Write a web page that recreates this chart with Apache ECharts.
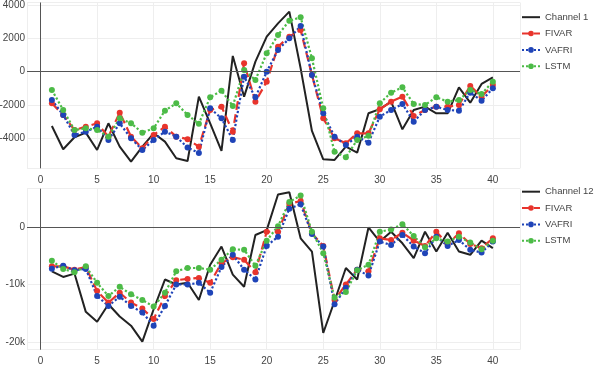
<!DOCTYPE html>
<title>channels</title>
<style>
body {margin: 0; background: #fff;}
#echart {height: 371px; width: 594px;}
</style>
<div id='echart'></div>
<script src='https://cdn.jsdelivr.net/npm/echarts@6.0.0/dist/echarts.min.js'></script>
<script>
let steps = [1, 2, 3, 4, 5, 6, 7, 8, 9, 10, 11, 12, 13, 14, 15, 16, 17, 18, 19, 20, 21, 22, 23, 24, 25, 26, 27, 28, 29, 30, 31, 32, 33, 34, 35, 36, 37, 38, 39, 40]

let ch1_actual = [-3260, -4660, -3940, -3660, -4700, -3100, -4500, -5400, -4500, -3700, -4200, -5200, -5360, -1500, -3100, -4750, 940, -1500, 600, 2100, 2900, 3600, 200, -3560, -5260, -5300, -4500, -4860, -2500, -2250, -1800, -3460, -2300, -2100, -2500, -2500, -940, -1860, -740, -340]
let ch1_fivar = [-1900, -2600, -3500, -3300, -3100, -3900, -2460, -3900, -4600, -3800, -3300, -3900, -4050, -4500, -2300, -2100, -3600, 500, -1800, -600, 1500, 2100, 2500, -200, -2800, -4000, -4300, -3700, -3700, -2260, -1800, -1500, -2660, -2300, -2100, -2100, -2000, -860, -1500, -800]
let ch1_vafri = [-1700, -2600, -3800, -3600, -3300, -4100, -3100, -4000, -4700, -4100, -3600, -3900, -4550, -4880, -2200, -2800, -4100, -300, -1540, 0, 1300, 2000, 2740, -200, -2500, -3900, -4400, -3900, -4260, -2700, -2300, -1940, -3000, -2300, -2100, -2300, -2340, -1260, -1740, -1000]
let ch1_lstm = [-1100, -2300, -3500, -3400, -3500, -3900, -2800, -3100, -3660, -3400, -2340, -1900, -2600, -3120, -1540, -1140, -2060, 100, -500, 1100, 2200, 3060, 3260, 800, -2200, -4800, -5140, -4100, -3850, -1900, -1260, -940, -1940, -2000, -1540, -1800, -1700, -1100, -1340, -600]

let ch12_actual = [-7710, -8690, -8110, -14740, -16460, -13430, -15540, -17140, -19890, -14290, -9140, -10000, -9710, -12690, -6570, -3430, -8290, -10400, -1430, -570, 5600, 6000, -2000, -4290, -18400, -12860, -7140, -9140, -110, -2570, -860, -2860, -5430, -860, -4290, -1030, -4290, -4860, -2400, -3710]
let ch12_fivar = [-6860, -6860, -7430, -6970, -11140, -13140, -11430, -13140, -14170, -16000, -12000, -9260, -9030, -8860, -9710, -6290, -5260, -5710, -7890, -860, -860, 4000, 4460, -1140, -3310, -12690, -10000, -7430, -7710, -2000, -2290, -1030, -2400, -3310, -860, -2970, -1140, -2970, -3710, -2000]
let ch12_vafri = [-7260, -6740, -7540, -7310, -12000, -13710, -12110, -13710, -14860, -17140, -13710, -10000, -10000, -9710, -11430, -6970, -4860, -7430, -9140, -3310, -1710, 3140, 3890, -1260, -3430, -13430, -10570, -7430, -8460, -2570, -3140, -1430, -3430, -4570, -1710, -3310, -2290, -4000, -4460, -2570]
let ch12_lstm = [-5890, -7310, -7890, -6860, -9710, -12000, -10400, -11710, -12690, -13830, -11430, -7710, -7140, -7140, -7430, -5710, -3890, -4000, -6740, -2400, 110, 4290, 5430, -860, -4570, -12290, -11310, -7540, -6570, -860, -460, 460, -1600, -3540, -2000, -2570, -1710, -2740, -3890, -2400]

let font = 'Liberation Sans, sans-serif'
let text_color = '#444'

function pairs(values) {
	return steps.map((s, i) => [s, values[i]])
}

function model_series(name, values, color, dash, index) {
	return {
		type: 'line', name: name, data: pairs(values), xAxisIndex: index, yAxisIndex: index,
		symbol: 'circle', symbolSize: 6, color: color,
		lineStyle: {width: 2.2, type: dash, color: color},
		itemStyle: {color: color},
		z: 3,
	}
}

function actual_series(name, values, index) {
	return {
		type: 'line', name: name, data: pairs(values), xAxisIndex: index, yAxisIndex: index,
		showSymbol: false, symbol: 'none', color: '#222',
		lineStyle: {width: 2, color: '#222'},
		z: 2,
		markLine: {
			silent: true, symbol: 'none', label: {show: false}, animation: false,
			lineStyle: {color: '#555', width: 1, type: 'solid'},
			data: [{yAxis: 0}, {xAxis: 0}],
		},
	}
}

function x_axis(index) {
	return {
		type: 'value', gridIndex: index, min: -1.2, max: 42.4, minInterval: 5, maxInterval: 5,
		axisLine: {show: false}, axisTick: {show: false},
		axisLabel: {color: text_color, fontFamily: font, fontSize: 10, margin: 3, showMinLabel: false, showMaxLabel: false},
		splitLine: {show: true, lineStyle: {color: '#eee', width: 1}},
	}
}

function y_axis(index, min, max, step, fmt) {
	return {
		type: 'value', gridIndex: index, min: min, max: max, minInterval: step, maxInterval: step,
		axisLine: {show: false}, axisTick: {show: false},
		axisLabel: {color: text_color, fontFamily: font, fontSize: 10, margin: 2, showMinLabel: false, showMaxLabel: false, formatter: fmt},
		splitLine: {show: true, lineStyle: {color: '#eee', width: 1}},
	}
}

function legend(top, first) {
	return {
		orient: 'vertical', left: 521, top: top, itemWidth: 18, itemHeight: 7, itemGap: 0, padding: 0,
		data: [{name: first, itemStyle: {opacity: 0}}, 'FIVAR', 'VAFRI', 'LSTM'],
		textStyle: {color: text_color, fontFamily: font, fontSize: 9.5, overflow: 'none'},
	}
}

let echart = echarts.init(document.querySelector('#echart'))
let option = {
	animation: false,
	grid: [
		{left: 27, top: 2.5, width: 493, height: 165.8, outerBoundsMode: 'none'},
		{left: 27, top: 188.7, width: 493, height: 161, outerBoundsMode: 'none'},
	],
	xAxis: [x_axis(0), x_axis(1)],
	yAxis: [
		y_axis(0, -5800, 4150, 2000, v => String(v)),
		y_axis(1, -21300, 6600, 10000, v => v === 0 ? '0' : (v / 1000) + 'k'),
	],
	legend: [legend(9, 'Channel 1'), legend(183.5, 'Channel 12')],
	series: [
		actual_series('Channel 1', ch1_actual, 0),
		model_series('FIVAR', ch1_fivar, '#e8342c', 'dashed', 0),
		model_series('VAFRI', ch1_vafri, '#1f44b8', 'dotted', 0),
		model_series('LSTM', ch1_lstm, '#4cbb47', 'dotted', 0),
		actual_series('Channel 12', ch12_actual, 1),
		model_series('FIVAR', ch12_fivar, '#e8342c', 'dashed', 1),
		model_series('VAFRI', ch12_vafri, '#1f44b8', 'dotted', 1),
		model_series('LSTM', ch12_lstm, '#4cbb47', 'dotted', 1),
	],
}

echart.setOption(option)
addEventListener('resize', function (event) {echart.resize()})
</script>
